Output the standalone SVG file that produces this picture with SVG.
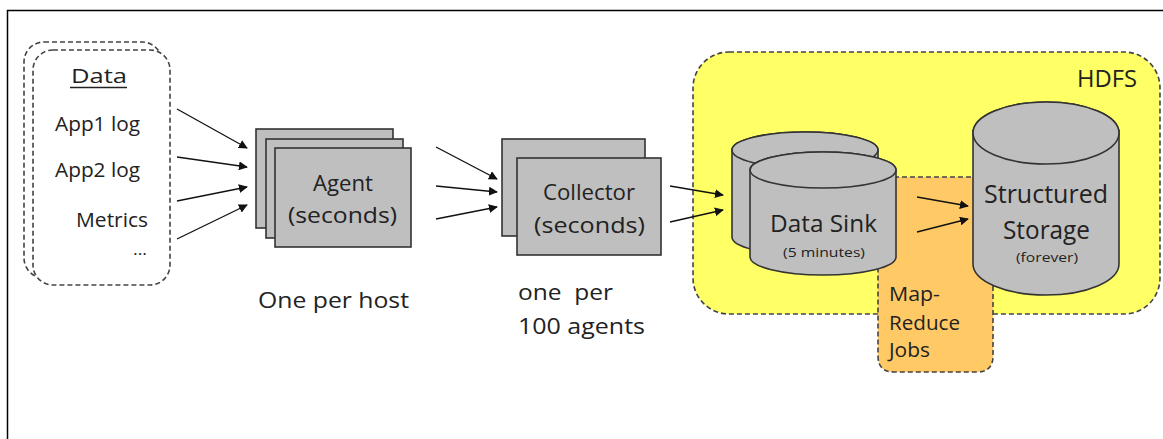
<svg xmlns="http://www.w3.org/2000/svg" width="1163" height="439" viewBox="0 0 1163 439">
<style>
.t{font-family:"Open Sans","Noto Sans","Liberation Sans",sans-serif;fill:#222}
.box{fill:#BFBFBF;stroke:#333;stroke-width:1.6}
.dash{stroke:#444;stroke-width:1.6;stroke-dasharray:5 3}
.conn{stroke:#111;stroke-width:1.3;fill:none;marker-end:url(#ah)}
</style>
<defs>
<marker id="ah" viewBox="0 0 10 10" refX="9" refY="5" markerWidth="9" markerHeight="9" markerUnits="userSpaceOnUse" orient="auto">
<path d="M0,0 L10,5 L0,10 z" fill="#111"/>
</marker>
</defs>
<rect width="1163" height="439" fill="#fff"/>
<path d="M7.5,439 V10.5 H1163" fill="none" stroke="#000" stroke-width="1.5"/>

<g id="hdfs">
<rect x="693" y="52" width="467" height="262" rx="36" fill="#FFFF66" class="dash"/>
<text class="t" x="1077" y="87" font-size="23" textLength="60" lengthAdjust="spacingAndGlyphs">HDFS</text>
</g>

<g id="mapreduce">
<path d="M878,177 H993 V356 Q993,372 977,372 H894 Q878,372 878,356 Z" fill="#FFC966" class="dash"/>
<text class="t" font-size="20" x="889" y="301" textLength="51" lengthAdjust="spacingAndGlyphs">Map-</text>
<text class="t" font-size="20" x="889" y="330" textLength="71" lengthAdjust="spacingAndGlyphs">Reduce</text>
<text class="t" font-size="20" x="889" y="357" textLength="41" lengthAdjust="spacingAndGlyphs">Jobs</text>
</g>

<g id="data">
<rect x="24" y="42" width="138" height="236" rx="20" fill="#fff" class="dash"/>
<rect x="33" y="50" width="137" height="235" rx="20" fill="#fff" class="dash"/>
<text class="t" font-size="20" x="71" y="83" textLength="56" lengthAdjust="spacingAndGlyphs">Data</text>
<line x1="70" y1="87.5" x2="127" y2="87.5" stroke="#222" stroke-width="1.4"/>
<text class="t" font-size="20" x="55" y="131" textLength="85" lengthAdjust="spacingAndGlyphs">App1 log</text>
<text class="t" font-size="20" x="55" y="177" textLength="85" lengthAdjust="spacingAndGlyphs">App2 log</text>
<text class="t" font-size="20" x="76" y="227" textLength="72" lengthAdjust="spacingAndGlyphs">Metrics</text>
<text class="t" font-size="16" x="133" y="255" textLength="14" lengthAdjust="spacingAndGlyphs">...</text>
</g>

<g id="agent">
<rect x="256" y="129" width="137" height="99" class="box"/>
<rect x="266" y="139" width="137" height="99" class="box"/>
<rect x="275" y="148" width="136" height="99" class="box"/>
<text class="t" font-size="21" x="313" y="191" textLength="60" lengthAdjust="spacingAndGlyphs">Agent</text>
<text class="t" font-size="21" x="288" y="223" textLength="109" lengthAdjust="spacingAndGlyphs">(seconds)</text>
</g>
<text class="t" font-size="21" x="258" y="308" textLength="151" lengthAdjust="spacingAndGlyphs">One per host</text>

<g id="collector">
<rect x="502" y="139" width="143" height="97" class="box"/>
<rect x="517" y="158" width="144" height="97" class="box"/>
<text class="t" font-size="21" x="543" y="200" textLength="92" lengthAdjust="spacingAndGlyphs">Collector</text>
<text class="t" font-size="21" x="534" y="233" textLength="111" lengthAdjust="spacingAndGlyphs">(seconds)</text>
</g>
<text class="t" font-size="21" x="518" y="300" textLength="95" lengthAdjust="spacingAndGlyphs" xml:space="preserve">one  per</text>
<text class="t" font-size="21" x="518" y="334" textLength="127" lengthAdjust="spacingAndGlyphs">100 agents</text>

<g id="datasink">
<path d="M732,150 V237 A73,18 0 0 0 878,237 V150 A73,18 0 0 0 732,150 Z" class="box"/>
<ellipse cx="805" cy="150" rx="73" ry="18" class="box"/>
<path d="M750,170 V257 A73,18 0 0 0 896,257 V170 A73,18 0 0 0 750,170 Z" class="box"/>
<ellipse cx="823" cy="170" rx="73" ry="18" class="box"/>
<text class="t" font-size="23" x="770" y="232" textLength="107" lengthAdjust="spacingAndGlyphs">Data Sink</text>
<text class="t" font-size="13" x="783" y="257" textLength="82" lengthAdjust="spacingAndGlyphs">(5 minutes)</text>
</g>

<g id="storage">
<path d="M973,133 V264 A73,31 0 0 0 1119,264 V133 A73,31 0 0 0 973,133 Z" class="box"/>
<ellipse cx="1046" cy="133" rx="73" ry="31" class="box"/>
<text class="t" font-size="25" x="984" y="203" textLength="124" lengthAdjust="spacingAndGlyphs">Structured</text>
<text class="t" font-size="25" x="1003" y="239" textLength="87" lengthAdjust="spacingAndGlyphs">Storage</text>
<text class="t" font-size="13" x="1016" y="262" textLength="62" lengthAdjust="spacingAndGlyphs">(forever)</text>
</g>

<g id="connectors">
<line class="conn" x1="177" y1="109" x2="247" y2="148"/>
<line class="conn" x1="177" y1="157" x2="247" y2="167"/>
<line class="conn" x1="177" y1="201" x2="247" y2="187"/>
<line class="conn" x1="177" y1="239" x2="247" y2="205"/>
<line class="conn" x1="436" y1="147" x2="497" y2="179"/>
<line class="conn" x1="436" y1="186" x2="497" y2="192"/>
<line class="conn" x1="436" y1="219" x2="497" y2="207"/>
<line class="conn" x1="670" y1="186" x2="723" y2="195"/>
<line class="conn" x1="670" y1="222" x2="723" y2="210"/>
<line class="conn" x1="917" y1="197" x2="968" y2="206"/>
<line class="conn" x1="917" y1="232" x2="968" y2="219"/>
</g>
</svg>
